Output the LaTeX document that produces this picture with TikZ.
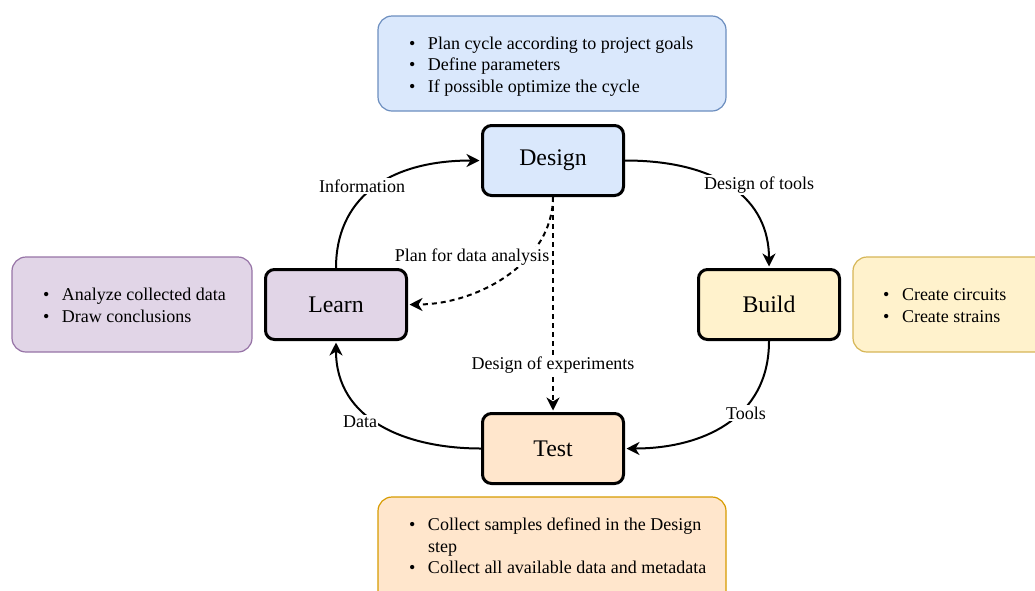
\documentclass[tikz,border=0pt]{standalone}
\usepackage{fontspec}
\setmainfont{Liberation Serif}
\usetikzlibrary{arrows.meta}

\definecolor{blueFill}{HTML}{DAE8FC}
\definecolor{blueLine}{HTML}{6C8EBF}
\definecolor{purpleFill}{HTML}{E1D5E7}
\definecolor{purpleLine}{HTML}{9673A6}
\definecolor{yellowFill}{HTML}{FFF2CC}
\definecolor{yellowLine}{HTML}{D6B656}
\definecolor{orangeFill}{HTML}{FFE6CC}
\definecolor{orangeLine}{HTML}{D79B00}

\tikzset{
  stage/.style={draw=black, line width=3pt, rounded corners=9pt,
    minimum width=141pt, minimum height=70pt, inner sep=0pt,
    font=\fontsize{23.8}{28}\selectfont},
  notebox/.style={line width=1.2pt, rounded corners=14pt, inner sep=0pt},
  notetext/.style={anchor=west, inner sep=0pt, align=left,
    font=\fontsize{18}{21.6}\selectfont},
  flow/.style={line width=2pt, shorten >=1.5pt,
    -{Stealth[length=13pt,width=13pt,inset=4pt]}},
  plan/.style={flow, dash pattern=on 5pt off 4pt},
  lbl/.style={fill=white, inner sep=1.5pt, font=\fontsize{18}{21}\selectfont}
}

\newenvironment{bullets}{\begin{tabular}{@{}l@{\hspace{12.5pt}}l@{}}}{\end{tabular}}

\begin{document}
\begin{tikzpicture}[x=1pt, y=-1pt]
  \useasboundingbox (0,0) rectangle (1035,590);
  \clip (0,0) rectangle (1035,590);

  % note boxes beside each stage
  \node[notebox, draw=blueLine, fill=blueFill, minimum width=348pt, minimum height=95pt]
    (designnote) at (552,63.5) {};
  \node[notebox, draw=purpleLine, fill=purpleFill, minimum width=240pt, minimum height=95pt]
    (learnnote) at (132,304.5) {};
  \node[notebox, draw=yellowLine, fill=yellowFill, minimum width=240pt, minimum height=95pt]
    (buildnote) at (973,304.5) {};
  \node[notebox, draw=orangeLine, fill=orangeFill, minimum width=348pt, minimum height=110pt]
    (testnote) at (552,552) {};

  \node[notetext] (designlist) at (409,66.5) {\begin{bullets}
    \textbullet & Plan cycle according to project goals\\
    \textbullet & Define parameters\\
    \textbullet & If possible optimize the cycle
  \end{bullets}};
  \node[notetext] (learnlist) at (43,307) {\begin{bullets}
    \textbullet & Analyze collected data\\
    \textbullet & Draw conclusions
  \end{bullets}};
  \node[notetext] (buildlist) at (883,307) {\begin{bullets}
    \textbullet & Create circuits\\
    \textbullet & Create strains
  \end{bullets}};
  \node[notetext] (testlist) at (409,548) {\begin{bullets}
    \textbullet & Collect samples defined in the Design\\
                & step\\
    \textbullet & Collect all available data and metadata
  \end{bullets}};

  % the four stages of the cycle
  \node[stage, fill=blueFill]   (design) at (553,160.5) {Design};
  \node[stage, fill=purpleFill] (learn)  at (336,304.5) {Learn};
  \node[stage, fill=yellowFill] (build)  at (769,304.5) {Build};
  \node[stage, fill=orangeFill] (test)   at (553,448.5) {Test};

  % cycle connectors
  \draw[flow] (learn.north) .. controls +(0,-68) and +(-95,0) .. (design.west);
  \draw[flow] (design.east) .. controls +(95,0) and +(0,-68) .. (build.north);
  \draw[flow] (build.south) .. controls +(0,79) and +(75,0) .. (test.east);
  \draw[flow] (test.west) .. controls +(-75,0) and +(0,79) .. (learn.south);
  \draw[plan] (design.south) -- (test.north);
  \draw[plan] (design.south) .. controls +(0,65) and +(70,0) .. (learn.east);

  % connector labels
  \node[lbl] (infolbl)  at (362,186) {Information};
  \node[lbl] (toolslbl) at (759,185) {Design of tools};
  \node[lbl] (planlbl)  at (472,257) {Plan for data analysis};
  \node[lbl] (explbl)   at (553,365) {Design of experiments};
  \node[lbl] (buildlbl) at (746,413) {Tools};
  \node[lbl] (datalbl)  at (360,422) {Data};
\end{tikzpicture}
\end{document}
